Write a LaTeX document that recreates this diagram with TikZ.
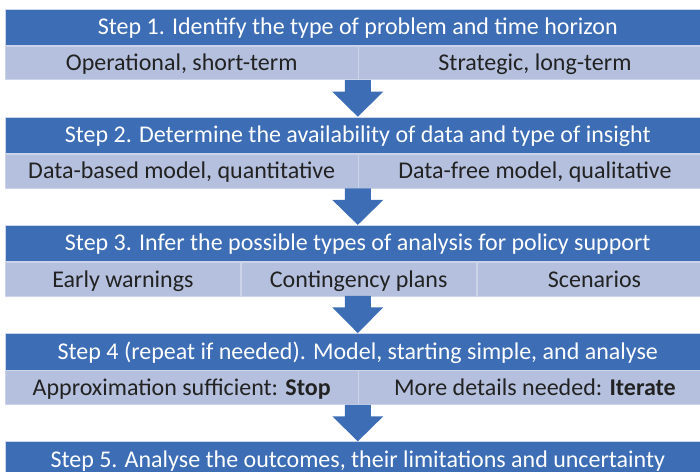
\documentclass[tikz,border=0pt]{standalone}
\usepackage{fontspec}
\setmainfont{Carlito}
\usetikzlibrary{calc}
\definecolor{hdrblue}{HTML}{3C6DB5}
\definecolor{subfill}{HTML}{B4C0DD}
\definecolor{subline}{HTML}{CCD4EA}
\definecolor{subtext}{HTML}{222222}
\tikzset{
  hdr/.style={rectangle, fill=hdrblue, draw=subline, line width=0.6pt, text=white,
    minimum width=705pt, minimum height=36.5pt, inner sep=0pt, anchor=north west,
    text height=17pt, text depth=2pt,
    font=\fontsize{24}{28}\selectfont},
  subcell/.style={rectangle, fill=subfill, draw=subline, line width=0.8pt, text=subtext,
    minimum height=33.8pt, inner sep=0pt, anchor=north west,
    text height=17.5pt, text depth=2pt,
    font=\fontsize{24}{28}\selectfont},
  half/.style={subcell, minimum width=352.5pt},
  third/.style={subcell, minimum width=235pt},
  blockarrow/.style={fill=hdrblue},
}
\newcommand{\downarrowblock}[2]{%
  \fill[blockarrow] let \p1=(#1), \p2=(#2.north) in
    (\x2-13pt,\y1) -- (\x2+13pt,\y1) -- (\x2+13pt,\y1-11.5pt) -- (\x2+25.5pt,\y1-11.5pt)
    -- (\x2,\y2) -- (\x2-25.5pt,\y1-11.5pt) -- (\x2-13pt,\y1-11.5pt) -- cycle;}
\begin{document}
\begin{tikzpicture}[x=1pt,y=-1pt]
\useasboundingbox (0,0) rectangle (700,471);
\clip (0,0) rectangle (700,471);
% Step 1
\node[hdr] (h1) at (5,8.5) {Step 1. Identify the type of problem and time horizon};
\node[half] (s1a) at (h1.south west) {Operational, short-term};
\node[half] (s1b) at (s1a.north east) {Strategic, long-term};
% Step 2
\node[hdr] (h2) at (5,116.7) {Step 2. Determine the availability of data and type of insight};
\node[half] (s2a) at (h2.south west) {Data-based model, quantitative};
\node[half] (s2b) at (s2a.north east) {Data-free model, qualitative};
% Step 3
\node[hdr] (h3) at (5,224.9) {Step 3. Infer the possible types of analysis for policy support};
\node[third] (s3a) at (h3.south west) {Early warnings};
\node[third] (s3b) at (s3a.north east) {Contingency plans};
\node[third] (s3c) at (s3b.north east) {Scenarios};
% Step 4
\node[hdr] (h4) at (5,333.1) {Step 4 (repeat if needed). Model, starting simple, and analyse};
\node[half] (s4a) at (h4.south west) {Approximation sufficient: \textbf{Stop}};
\node[half] (s4b) at (s4a.north east) {More details needed: \textbf{Iterate}};
% Step 5
\node[hdr] (h5) at (5,441.3) {Step 5. Analyse the outcomes, their limitations and uncertainty};
% arrows
\coordinate (a1) at (s1a.south east);
\coordinate (a2) at (s2a.south east);
\coordinate (a3) at ($(h3.south)+(0,33.8)$);
\coordinate (a4) at (s4a.south east);
\downarrowblock{a1}{h2}
\downarrowblock{a2}{h3}
\downarrowblock{a3}{h4}
\downarrowblock{a4}{h5}
\end{tikzpicture}
\end{document}
